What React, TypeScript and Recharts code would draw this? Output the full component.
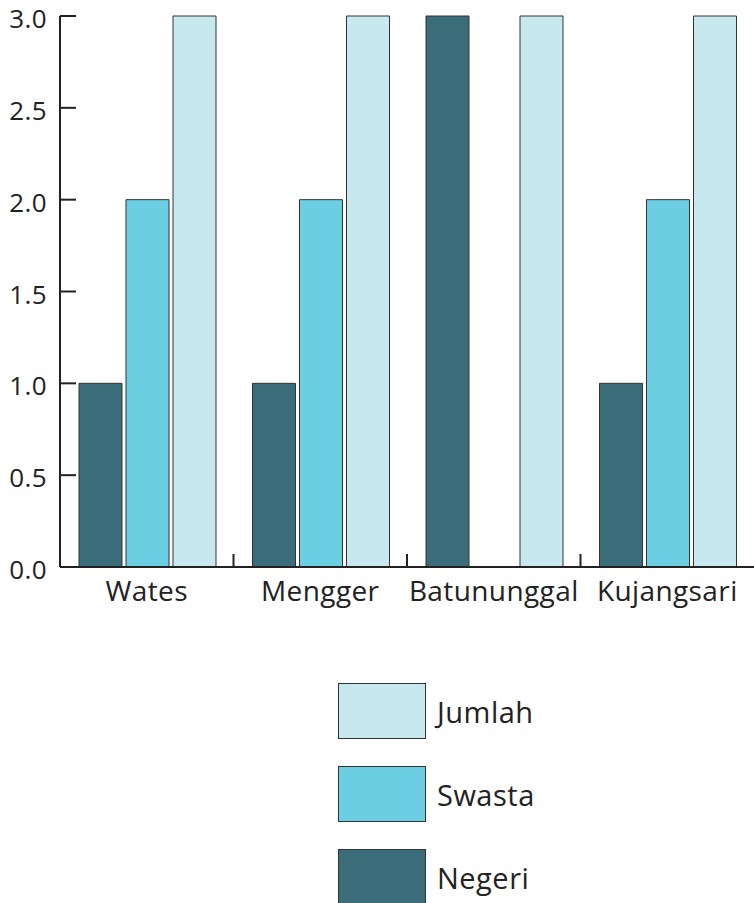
import { BarChart, Bar, XAxis, YAxis } from "recharts";

const kelurahan = ["Wates", "Mengger", "Batununggal", "Kujangsari"];
const negeri = [1, 1, 3, 1];
const swasta = [2, 2, 0, 2];
const jumlah = [3, 3, 3, 3];
const yTicks = [0, 0.5, 1, 1.5, 2, 2.5, 3];

const COLORS = {
  negeri: "#3a6d79",
  swasta: "#6bcee3",
  jumlah: "#c8e8ef",
};

const FONT = "'Open Sans', sans-serif";
const W = 754;
const H = 903;
const LEFT = 60;
const BAND = (W - LEFT) / kelurahan.length;

const data = kelurahan.map((k, i) => ({
  name: k,
  negeri: negeri[i],
  swasta: swasta[i],
  jumlah: jumlah[i],
}));

const legendItems = [
  { key: "jumlah", label: "Jumlah" },
  { key: "swasta", label: "Swasta" },
  { key: "negeri", label: "Negeri" },
];

function YTick({ x, y, payload }: any) {
  return (
    <g>
      <line x1={x} x2={x + 16} y1={y} y2={y} stroke="#222" strokeWidth={2} />
      <text
        x={x - 13}
        y={y}
        dy={12}
        textAnchor="end"
        fontSize={26}
        letterSpacing={0.4}
        fontFamily={FONT}
        fill="#222"
      >
        {Number(payload.value).toFixed(1)}
      </text>
    </g>
  );
}

function XTick({ x, y, payload, index }: any) {
  return (
    <g>
      {index > 0 && (
        <line
          x1={x - BAND / 2}
          x2={x - BAND / 2}
          y1={y}
          y2={y - 13}
          stroke="#222"
          strokeWidth={2}
        />
      )}
      <text
        x={x}
        y={y}
        dy={34}
        textAnchor="middle"
        fontSize={28}
        letterSpacing={0.4}
        fontFamily={FONT}
        fill="#222"
      >
        {payload.value}
      </text>
    </g>
  );
}

function LegendBox() {
  return (
    <div style={{ position: "absolute", left: 338, top: 683 }}>
      {legendItems.map((it) => (
        <div
          key={it.key}
          style={{ display: "flex", alignItems: "center", height: 56, marginBottom: 27 }}
        >
          <div
            style={{
              width: 86,
              height: 54,
              background: (COLORS as any)[it.key],
              border: "1px solid #333",
            }}
          />
          <span
            style={{
              marginLeft: 11,
              fontSize: 29,
              letterSpacing: 0.5,
              fontFamily: FONT,
              color: "#222",
            }}
          >
            {it.label}
          </span>
        </div>
      ))}
    </div>
  );
}

export default function App() {
  return (
    <div style={{ position: "absolute", left: 0, top: 0, width: W, height: H, background: "#fff" }}>
      <BarChart
        width={W}
        height={H}
        data={data}
        margin={{ top: 16, right: 0, left: 0, bottom: 296 }}
        barCategoryGap={19}
        barGap={4}
      >
        <XAxis
          dataKey="name"
          axisLine={{ stroke: "#222", strokeWidth: 2 }}
          tickLine={false}
          tickSize={0}
          tickMargin={0}
          tick={<XTick />}
          interval={0}
          height={40}
        />
        <YAxis
          domain={[0, 3]}
          ticks={yTicks}
          axisLine={{ stroke: "#222", strokeWidth: 2 }}
          tickLine={false}
          tickSize={0}
          tickMargin={0}
          tick={<YTick />}
          width={LEFT}
        />
        <Bar dataKey="negeri" fill={COLORS.negeri} stroke="#333" strokeWidth={1} isAnimationActive={false} />
        <Bar dataKey="swasta" fill={COLORS.swasta} stroke="#333" strokeWidth={1} isAnimationActive={false} />
        <Bar dataKey="jumlah" fill={COLORS.jumlah} stroke="#333" strokeWidth={1} isAnimationActive={false} />
      </BarChart>
      <LegendBox />
    </div>
  );
}
